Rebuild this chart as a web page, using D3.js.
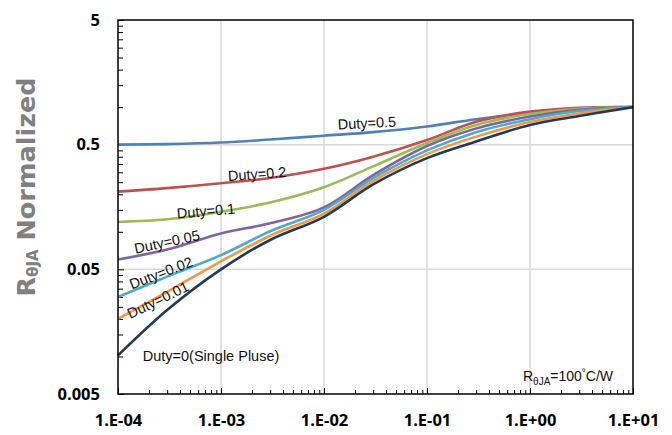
<!DOCTYPE html>
<html>
<head>
<meta charset="utf-8">
<script src="https://d3js.org/d3.v7.min.js"></script>
<style>
  body { margin: 0; background: #fff; }
  svg { display: block; }
</style>
</head>
<body>
<script>
// pulse width (s)
var pulseTimes = [1e-4, 3e-4, 1e-3, 3e-3, 1e-2, 3e-2, 1e-1, 3e-1, 1, 3, 10];

// normalized R(theta JA)
var duty05 = [0.50, 0.505, 0.52, 0.55, 0.59, 0.63, 0.70, 0.80, 0.90, 0.98, 1.0];
var duty02 = [0.21, 0.224, 0.245, 0.27, 0.32, 0.40, 0.545, 0.765, 0.92, 0.99, 1.0];
var duty01 = [0.12, 0.126, 0.145, 0.172, 0.228, 0.335, 0.516, 0.72, 0.88, 0.97, 1.0];
var duty005 = [0.060, 0.072, 0.097, 0.117, 0.157, 0.285, 0.488, 0.675, 0.84, 0.95, 1.0];
var duty002 = [0.030, 0.0437, 0.065, 0.101, 0.15, 0.27, 0.45, 0.63, 0.80, 0.93, 1.0];
var duty001 = [0.020, 0.033, 0.058, 0.093, 0.14, 0.255, 0.42, 0.58, 0.76, 0.89, 1.0];
var dutySingle = [0.0102, 0.0236, 0.05, 0.086, 0.132, 0.24, 0.39, 0.53, 0.72, 0.85, 1.0];

var seriesNames = ["Duty=0.5", "Duty=0.2", "Duty=0.1", "Duty=0.05", "Duty=0.02", "Duty=0.01", "Duty=0(Single Pluse)"];
var seriesValues = [duty05, duty02, duty01, duty005, duty002, duty001, dutySingle];

var xTickValues = [1e-4, 1e-3, 1e-2, 1e-1, 1, 10];
var xTickLabels = ["1.E-04", "1.E-03", "1.E-02", "1.E-01", "1.E+00", "1.E+01"];
var yTickValues = [0.005, 0.05, 0.5, 5];
var yTickLabels = ["0.005", "0.05", "0.5", "5"];

var colors = ["#4f81bd", "#c0504d", "#9bbb59", "#8064a2", "#4bacc6", "#f79646", "#1f3a5f"];

// where each curve label sits (data units) and its tilt
var labelLayout = [
  { x: 0.0261, y: 0.746, rot: -3 },
  { x: 0.00224, y: 0.291, rot: -4 },
  { x: 0.000714, y: 0.147, rot: -5 },
  { x: 0.000299, y: 0.083, rot: -12 },
  { x: 0.000261, y: 0.0468, rot: -21 },
  { x: 0.000244, y: 0.0284, rot: -26 },
  { x: 0.0008, y: 0.0101, rot: 0 }
];

var W = 672, H = 435;
var plotLeft = 118, plotRight = 633, plotTop = 20, plotBottom = 394;

var svg = d3.select("body").append("svg")
    .attr("width", W)
    .attr("height", H);

var x = d3.scaleLog().domain([1e-4, 10]).range([plotLeft, plotRight]);
var y = d3.scaleLog().domain([0.005, 5]).range([plotBottom, plotTop]);

// gridlines
svg.append("g").selectAll("line")
  .data(xTickValues.slice(1, -1))
  .enter().append("line")
    .attr("x1", function(d) { return x(d); })
    .attr("x2", function(d) { return x(d); })
    .attr("y1", plotTop).attr("y2", plotBottom)
    .attr("stroke", "#d9d9d9").attr("stroke-width", 1.5);

svg.append("g").selectAll("line")
  .data(yTickValues.slice(1, -1))
  .enter().append("line")
    .attr("y1", function(d) { return y(d); })
    .attr("y2", function(d) { return y(d); })
    .attr("x1", plotLeft).attr("x2", plotRight)
    .attr("stroke", "#d9d9d9").attr("stroke-width", 1.5);

// minor ticks
var xMinor = [];
xTickValues.slice(0, -1).forEach(function(d) {
  for (var m = 2; m <= 9; m++) xMinor.push(d * m);
});
var yMinor = [];
yTickValues.slice(0, -1).forEach(function(d) {
  for (var m = 2; m <= 9; m++) yMinor.push(d * m);
});

var tickFont = "'Open Sans', sans-serif";

var xMinorAxis = svg.append("g")
    .attr("transform", "translate(0," + plotBottom + ")")
    .call(d3.axisBottom(x).tickValues(xMinor).tickSize(-4).tickFormat(""));
var xAxis = svg.append("g")
    .attr("transform", "translate(0," + plotBottom + ")")
    .call(d3.axisBottom(x).tickValues(xTickValues).tickSize(-6).tickPadding(20)
      .tickFormat(function(d, i) { return xTickLabels[i]; }));

var yMinorAxis = svg.append("g")
    .attr("transform", "translate(" + plotLeft + ",0)")
    .call(d3.axisLeft(y).tickValues(yMinor).tickSize(-5).tickFormat(""));
var yAxis = svg.append("g")
    .attr("transform", "translate(" + plotLeft + ",0)")
    .call(d3.axisLeft(y).tickValues(yTickValues).tickSize(-6).tickPadding(18)
      .tickFormat(function(d, i) { return yTickLabels[i]; }));

[xMinorAxis, xAxis, yMinorAxis, yAxis].forEach(function(g) {
  g.select(".domain").remove();
  g.selectAll(".tick line").attr("stroke", "#000").attr("stroke-width", 1);
  g.selectAll("text")
    .attr("font-family", tickFont)
    .attr("font-weight", 700)
    .attr("font-size", 16.5)
    .attr("fill", "#000");
});

// curves (smoothed like the spreadsheet lines)
var line = d3.line()
    .x(function(d) { return x(d[0]); })
    .y(function(d) { return y(d[1]); })
    .curve(d3.curveCatmullRom.alpha(0.5));

svg.append("g").selectAll("path")
  .data(seriesValues)
  .enter().append("path")
    .attr("d", function(vals) {
      return line(vals.map(function(v, i) { return [pulseTimes[i], v]; }));
    })
    .attr("fill", "none")
    .attr("stroke", function(d, i) { return colors[i]; })
    .attr("stroke-width", 2.6);

// frame
svg.append("rect")
    .attr("x", plotLeft).attr("y", plotTop)
    .attr("width", plotRight - plotLeft).attr("height", plotBottom - plotTop)
    .attr("fill", "none")
    .attr("stroke", "#000")
    .attr("stroke-width", 1.5);

// curve labels
svg.append("g").selectAll("text")
  .data(seriesNames)
  .enter().append("text")
    .attr("transform", function(d, i) {
      var p = labelLayout[i];
      return "translate(" + x(p.x) + "," + y(p.y) + ") rotate(" + p.rot + ")";
    })
    .attr("text-anchor", "middle")
    .attr("dy", "0.35em")
    .attr("font-family", "'Liberation Sans', Arial, sans-serif")
    .attr("font-size", 14.5)
    .attr("fill", "#111")
    .text(function(d) { return d; });

// R(theta JA) note
var note = svg.append("text")
    .attr("x", x(2.34))
    .attr("y", y(0.007))
    .attr("dy", "0.35em")
    .attr("text-anchor", "middle")
    .attr("font-family", "'Liberation Sans', Arial, sans-serif")
    .attr("font-size", 14)
    .attr("fill", "#111");
note.append("tspan").text("R");
note.append("tspan").attr("font-size", 10).attr("dy", 4).text("\u03b8JA");
note.append("tspan").attr("dy", -4).text("=100");
note.append("tspan").attr("font-size", 10).attr("dy", -5).text("\u00b0");
note.append("tspan").attr("dy", 5).text("C/W");

// y axis title
var yTitle = svg.append("text")
    .attr("transform", "translate(35," + ((plotTop + plotBottom) / 2 - 20) + ") rotate(-90)")
    .attr("text-anchor", "middle")
    .attr("font-family", "'DejaVu Sans', sans-serif")
    .attr("font-weight", 700)
    .attr("font-size", 25.5)
    .attr("fill", "#808080");
yTitle.append("tspan").text("R");
yTitle.append("tspan").attr("font-size", 15).attr("dy", 3).text("\u03b8JA");
yTitle.append("tspan").attr("dy", -3).text(" Normalized");
</script>
</body>
</html>
